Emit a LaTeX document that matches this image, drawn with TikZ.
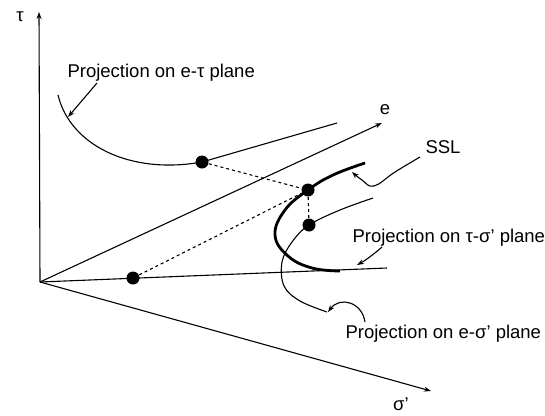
\documentclass[tikz,border=0pt]{standalone}
\usepackage{fontspec}
\setmainfont{Liberation Sans}
\usetikzlibrary{arrows.meta}

\tikzset{
  dot/.style={circle, fill=black, inner sep=0pt, minimum size=13pt},
  thinline/.style={line width=1.1pt},
  ssl/.style={line width=2.8pt},
  dashline/.style={line width=1.1pt, dash pattern=on 3pt off 3pt},
  lbl/.style={anchor=base west, inner sep=0pt}
}

\begin{document}
\begin{tikzpicture}[x=1pt, y=-1pt, font=\fontsize{18.5}{22}\selectfont, >={Stealth[length=7pt,width=5pt]}, line width=1.1pt]
        \useasboundingbox (0,0) rectangle (545,415);

        % axes
        \coordinate (O) at (40,282);
        \coordinate (tauend) at (39,12);
        \coordinate (eend) at (382,123);
        \coordinate (sigend) at (431,391);
        \draw[->] (O) -- (tauend);
        \draw[->] (O) -- (eend);
        \draw[->] (O) -- (sigend);
        \node (taulabel) at (20,17) {τ};
        \node (elabel) at (385,110) {e};
        \node (siglabel) at (401,404) {σ'};

        % points
        \node[dot] (etdot) at (202,162) {};
        \node[dot] (ssltop) at (308,190) {};
        \node[dot] (sslmid) at (309,225) {};
        \node[dot] (tsdot) at (133,278) {};

        % projection on tau-sigma' plane (line through origin)
        \coordinate (tsend) at (387,268);
        \draw[thinline] (O) -- (tsend);

        % projection on e-tau plane
        \coordinate (etend) at (337,123);
        \draw[thinline] (58,95) .. controls (70,145) and (130,175) .. (etdot.center) -- (etend);

        % SSL
        \draw[ssl] plot[smooth, tension=0.7] coordinates {(365,163) (333,175) (308,190) (285,210) (275,235) (288,256) (312,268) (340,271)};

        % projection on e-sigma' plane
        \draw[thinline] plot[smooth, tension=0.6] coordinates {(373,198) (340,210) (309,225) (292,242) (282,262) (284,286) (300,301) (327,312)};

        % dashed links
        \draw[dashline] (etdot) -- (ssltop);
        \draw[dashline] (tsdot) -- (ssltop);
        \draw[dashline] (ssltop) -- (sslmid);

        % labels
        \node[lbl] (etlabel) at (67,77) {Projection on e-τ plane};
        \node[lbl] (ssllabel) at (425,153) {SSL};
        \node[lbl] (tslabel) at (352,242) {Projection on τ-σ' plane};
        \node[lbl] (eslabel) at (345,338) {Projection on e-σ' plane};

        % leaders (shifts are page directions: negative yshift = down)
        \draw[->] ([xshift=30pt,yshift=-6pt]etlabel.base west) -- (68,117);
        \draw[->] plot[smooth, tension=0.7] coordinates {([xshift=-5pt,yshift=-4pt]ssllabel.base west) (395,172) (374,186) (362,180) (352,172)};
        \draw[->] ([xshift=30pt,yshift=-5pt]tslabel.base west) .. controls (374,254) and (366,260) .. (357,265);
        \draw[->] ([xshift=20pt,yshift=16pt]eslabel.base west) .. controls (362,302) and (340,296) .. (328,312);
\end{tikzpicture}
\end{document}
